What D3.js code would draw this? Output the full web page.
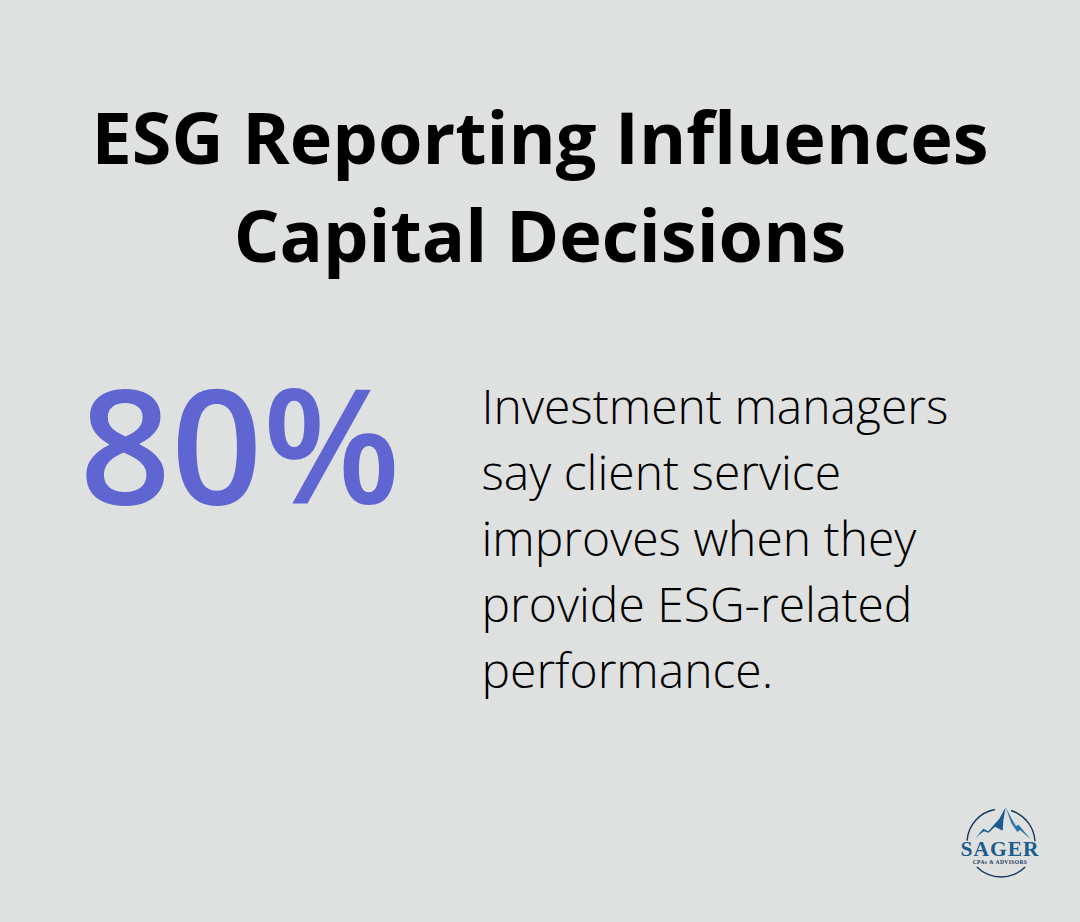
<!DOCTYPE html>
<html>
<head>
<meta charset="utf-8">
<script src="https://cdn.jsdelivr.net/npm/d3@7"></script>
<style>
  html, body { margin: 0; padding: 0; background: #dfe1e0; }
  svg { display: block; }
  text { font-family: "Open Sans", sans-serif; }
</style>
</head>
<body>
<svg id="chart"></svg>
<script>
const titleLines = ["ESG Reporting Influences", "Capital Decisions"];
const statValue = ["80%"];
const statLines = ["Investment managers", "say client service", "improves when they", "provide ESG-related", "performance."];
const logoName = ["SAGER"];
const logoSub = ["CPAs & ADVISORS"];

const width = 1080, height = 922;
const svg = d3.select("#chart").attr("width", width).attr("height", height);

svg.append("rect").attr("width", width).attr("height", height).attr("fill", "#dfe1e0");

// Title
svg.selectAll("text.title")
  .data(titleLines)
  .enter()
  .append("text")
  .attr("class", "title")
  .attr("x", 540)
  .attr("y", (d, i) => 164 + i * 98)
  .attr("text-anchor", "middle")
  .attr("font-size", 72)
  .attr("font-weight", 700)
  .attr("fill", "#000")
  .text(d => d);

// Big number
svg.selectAll("text.stat")
  .data(statValue)
  .enter()
  .append("text")
  .attr("class", "stat")
  .attr("x", 240)
  .attr("y", 504)
  .attr("text-anchor", "middle")
  .attr("font-size", 160)
  .attr("font-weight", 600)
  .attr("fill", "#5f65d1")
  .text(d => d);

// Description
svg.selectAll("text.desc")
  .data(statLines)
  .enter()
  .append("text")
  .attr("class", "desc")
  .attr("x", 481.5)
  .attr("y", (d, i) => 424 + i * 66)
  .attr("font-size", 48)
  .attr("font-weight", 300)
  .attr("fill", "#000")
  .text(d => d);

// Logo
const logo = svg.append("g");
const ringArc = d3.arc().innerRadius(33.3).outerRadius(34.7);
const ringParts = [
  [-1.50, -0.18],
  [0.30, 1.52],
  [2.35, 3.93]
];
logo.selectAll("path.ring")
  .data(ringParts)
  .enter()
  .append("path")
  .attr("class", "ring")
  .attr("transform", "translate(1001,843)")
  .attr("d", d => ringArc({ startAngle: d[0], endAngle: d[1] }))
  .attr("fill", "#17375a");

const peaks = logo.append("g").attr("transform", "translate(940,790) scale(0.3333)");
const line = d3.line();
peaks.append("path")
  .attr("d", line([[105, 146], [130, 116], [145, 124], [178, 86], [197, 52], [190, 92], [188, 122], [165, 110], [146, 128], [132, 124], [118, 134]]) + "Z")
  .attr("fill", "#1c5c8e");
peaks.append("path")
  .attr("d", line([[197, 52], [214, 84], [228, 108], [236, 104], [272, 148], [240, 120], [232, 126], [214, 100]]) + "Z")
  .attr("fill", "#2f77a8");

logo.selectAll("text.name")
  .data(logoName)
  .enter()
  .append("text")
  .attr("class", "name")
  .attr("x", 1000)
  .attr("y", 856)
  .attr("text-anchor", "middle")
  .style("font-family", "Liberation Serif")
  .attr("font-size", 21.5)
  .attr("font-weight", 700)
  .attr("letter-spacing", 1)
  .attr("fill", "#1c5c8e")
  .text(d => d);
logo.selectAll("text.sub")
  .data(logoSub)
  .enter()
  .append("text")
  .attr("class", "sub")
  .attr("x", 1000)
  .attr("y", 864)
  .attr("text-anchor", "middle")
  .style("font-family", "Liberation Serif")
  .attr("font-size", 5.5)
  .attr("font-weight", 700)
  .attr("letter-spacing", 0.4)
  .attr("fill", "#17375a")
  .text(d => d);
</script>
</body>
</html>
